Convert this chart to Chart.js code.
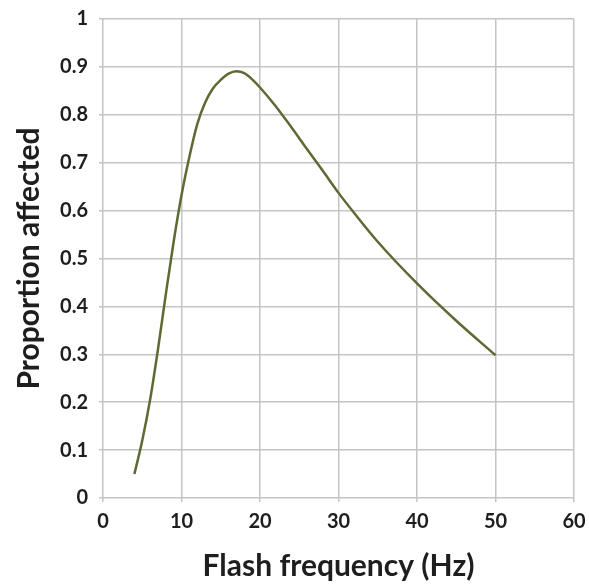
<!DOCTYPE html>
<html>
<head>
<meta charset="utf-8">
<script src="https://cdn.jsdelivr.net/npm/chart.js@4"></script>
<style>
  html, body { margin: 0; padding: 0; background: #ffffff; }
  #wrap { width: 589px; height: 588px; }
</style>
</head>
<body>
<div id="wrap"><canvas id="c" width="589" height="588"></canvas></div>
<script>
const frequencies = [4, 5, 6, 7, 8, 9, 10, 11, 12, 13, 14, 15, 16, 17, 18, 19, 20, 22, 24, 26, 28, 30, 32, 35, 40, 45, 50];
const proportions = [0.05, 0.12, 0.205, 0.31, 0.425, 0.535, 0.632, 0.712, 0.78, 0.825, 0.855, 0.873, 0.886, 0.891, 0.887, 0.874, 0.857, 0.818, 0.774, 0.728, 0.683, 0.637, 0.595, 0.535, 0.448, 0.37, 0.298];
const xTicks = [0, 10, 20, 30, 40, 50, 60];
const yTicks = [0, 0.1, 0.2, 0.3, 0.4, 0.5, 0.6, 0.7, 0.8, 0.9, 1];
const xTitle = 'Flash frequency (Hz)';
const yTitle = 'Proportion affected';

const points = frequencies.map((f, i) => ({ x: f, y: proportions[i] }));
const fontFamily = 'Lato, "Open Sans", sans-serif';
const textColor = '#1e1e1e';
const gridColor = '#c4c4c4';

new Chart(document.getElementById('c'), {
  type: 'line',
  data: {
    datasets: [{
      data: points,
      borderColor: '#5e6a34',
      borderWidth: 2.5,
      pointRadius: 0,
      fill: false,
      cubicInterpolationMode: 'monotone'
    }]
  },
  options: {
    responsive: false,
    animation: false,
    layout: { padding: { left: 0, right: 15, top: 19, bottom: 0 } },
    plugins: { legend: { display: false }, tooltip: { enabled: false } },
    scales: {
      x: {
        type: 'linear',
        min: 0, max: 60,
        afterBuildTicks: s => { s.ticks = xTicks.map(v => ({ value: v })); },
        afterFit: s => { s.height = 90; s.paddingLeft = 0; s.paddingRight = 0; },
        grid: { color: gridColor, lineWidth: 1.5, tickLength: 4, tickColor: gridColor },
        border: { display: false },
        ticks: { color: textColor, padding: 8, font: { family: fontFamily, size: 20, weight: 'bold' }, maxRotation: 0 },
        title: { display: true, text: xTitle, color: textColor, padding: { top: 0, bottom: 4 }, font: { family: fontFamily, size: 30, weight: 'bold' } }
      },
      y: {
        type: 'linear',
        min: 0, max: 1,
        afterBuildTicks: s => { s.ticks = yTicks.map(v => ({ value: v })); },
        afterFit: s => { s.width = 103; s.paddingTop = 0; s.paddingBottom = 0; },
        grid: { color: gridColor, lineWidth: 1.5, tickLength: 4, tickColor: gridColor },
        border: { display: false },
        ticks: { color: textColor, padding: 11, font: { family: fontFamily, size: 20, weight: 'bold' },
                 callback: v => String(Math.round(v * 10) / 10) },
        title: { display: true, text: yTitle, color: textColor, padding: { top: 11, bottom: 0 }, font: { family: fontFamily, size: 30, weight: 'bold' } }
      }
    }
  }
});
</script>
</body>
</html>
